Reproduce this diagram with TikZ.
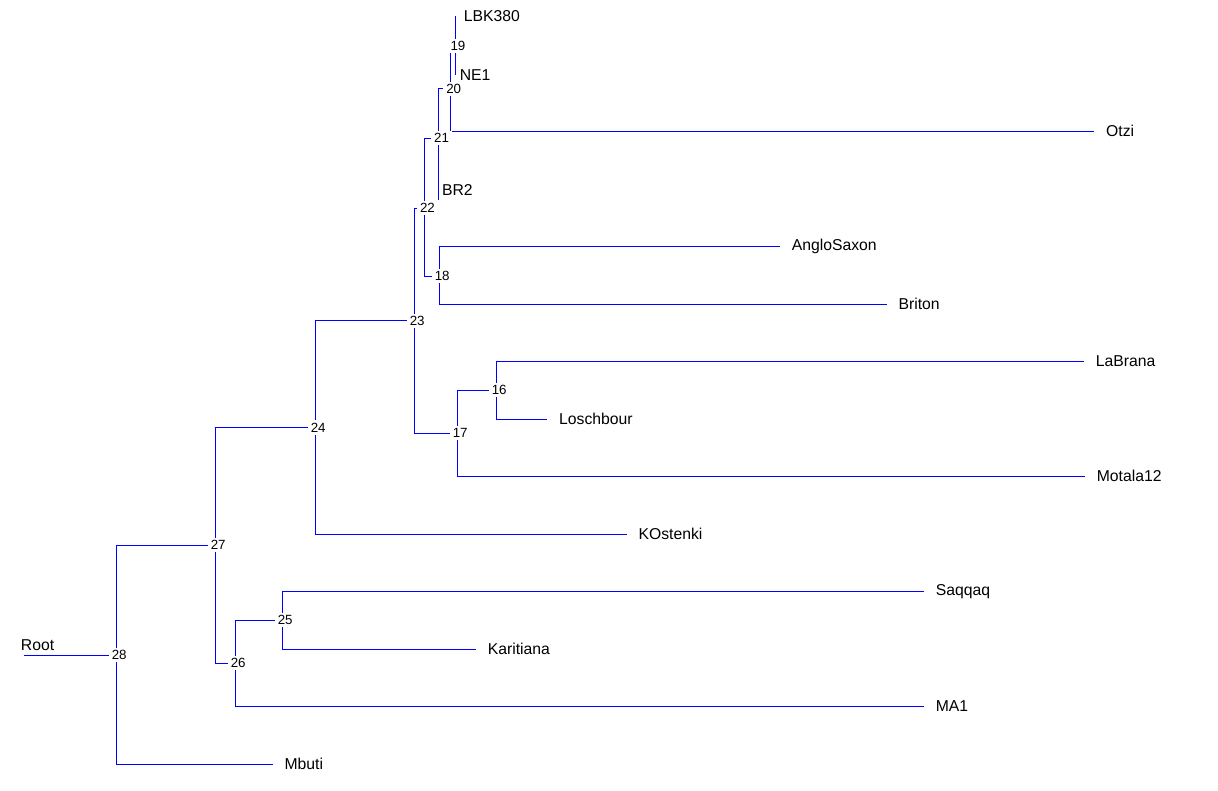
\documentclass[tikz,border=0pt]{standalone}
\usepackage{fontspec}
\setmainfont{Liberation Sans}

\tikzset{every picture/.style={line width=0.75pt}}
\tikzset{
  branch/.style={draw={rgb, 255:red, 0; green, 0; blue, 255 }},
  nodenum/.style={fill=white, inner xsep=2.2pt, inner ysep=1.8pt, xshift=2.2pt, font=\fontsize{10}{12}\selectfont},
  taxon/.style={anchor=west, inner xsep=8.5pt, inner ysep=3pt, font=\fontsize{11.8}{14}\selectfont}
}

\begin{document}
\begin{tikzpicture}[x=0.75pt,y=0.75pt,yscale=-1,xscale=1]
\path[use as bounding box] (0,0) rectangle (1218,790); %set diagram to 1218 x 790

%Branch points
\coordinate (root) at (24,655.3);
\coordinate (c28) at (116.3,655.3);
\coordinate (c27) at (215.3,545.3);
\coordinate (c24) at (315.3,427.5);
\coordinate (c23) at (414.3,320.7);
\coordinate (c22) at (424.5,208.3);
\coordinate (c21) at (438.7,138.3);
\coordinate (c20) at (450.8,88.8);
\coordinate (c19) at (455,45.8);
\coordinate (c18) at (439.3,276);
\coordinate (c17) at (457.3,433.3);
\coordinate (c16) at (496.3,390);
\coordinate (c26) at (235.3,663.3);
\coordinate (c25) at (282.3,620.3);

%Taxa
\node[taxon, inner xsep=6.25pt] (lbk380) at (455,16) {LBK380};
\node[taxon, inner xsep=3.25pt] (ne1) at (455,75) {NE1};
\node[taxon] (otzi) at (1094.3,131) {Otzi};
\node[taxon, inner xsep=2.2pt] (br2) at (438.7,190) {BR2};
\node[taxon] (anglosaxon) at (780,246.3) {AngloSaxon};
\node[taxon] (briton) at (886.7,304.3) {Briton};
\node[taxon] (labrana) at (1084,361.3) {LaBrana};
\node[taxon] (loschbour) at (547.3,419) {Loschbour};
\node[taxon] (motala12) at (1085,476) {Motala12};
\node[taxon] (kostenki) at (626.7,534.3) {KOstenki};
\node[taxon] (saqqaq) at (924,591.3) {Saqqaq};
\node[taxon] (karitiana) at (476,649) {Karitiana};
\node[taxon] (ma1) at (924,706) {MA1};
\node[taxon] (mbuti) at (272.7,764) {Mbuti};

%Root
\node[anchor=base west, inner sep=0pt, font=\fontsize{11.8}{14}\selectfont] (rootlabel) at (20.5,650) {Root};
\draw[branch] (root) -- (c28);

%Lower clade
\draw[branch] (c28) |- (c27);
\draw[branch] (c28) |- (mbuti);
\draw[branch] (c27) |- (c24);
\draw[branch] (c27) |- (c26);
\draw[branch] (c26) |- (c25);
\draw[branch] (c26) |- (ma1);
\draw[branch] (c25) |- (saqqaq);
\draw[branch] (c25) |- (karitiana);
\draw[branch] (c24) |- (c23);
\draw[branch] (c24) |- (kostenki);

%Upper clade
\draw[branch] (c23) |- (c22);
\draw[branch] (c23) |- (c17);
\draw[branch] (c17) |- (c16);
\draw[branch] (c17) |- (motala12);
\draw[branch] (c16) |- (labrana);
\draw[branch] (c16) |- (loschbour);
\draw[branch] (c22) |- (c21);
\draw[branch] (c22) |- (c18);
\draw[branch] (c18) |- (anglosaxon);
\draw[branch] (c18) |- (briton);
\draw[branch] (c21) |- (c20);
\draw[branch] (c21) |- (br2.south west);
\draw[branch] (c20) |- (c19);
\draw[branch] (c20) |- (otzi);
\draw[branch] (c19) |- (lbk380);
\draw[branch] (c19) |- (ne1);

%Node numbers
\node[nodenum] (n16) at (c16) {16};
\node[nodenum] (n17) at (c17) {17};
\node[nodenum] (n18) at (c18) {18};
\node[nodenum] (n19) at (c19) {19};
\node[nodenum] (n20) at (c20) {20};
\node[nodenum] (n21) at (c21) {21};
\node[nodenum] (n22) at (c22) {22};
\node[nodenum] (n23) at (c23) {23};
\node[nodenum] (n24) at (c24) {24};
\node[nodenum] (n25) at (c25) {25};
\node[nodenum] (n26) at (c26) {26};
\node[nodenum] (n27) at (c27) {27};
\node[nodenum] (n28) at (c28) {28};

\end{tikzpicture}
\end{document}
